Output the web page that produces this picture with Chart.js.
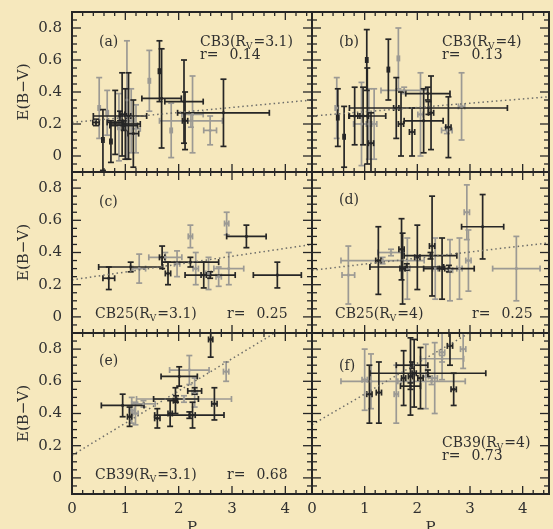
<!DOCTYPE html>
<html lang="en">
<head>
<meta charset="UTF-8">
<title>E(B-V) versus P</title>
<style>
  html, body { margin: 0; padding: 0; background: #f6e8bd; }
  #wrap { position: relative; width: 553px; height: 529px; overflow: hidden; }
  #wrap canvas { position: absolute; left: 0; top: 0; }
</style>
</head>
<body>
<div id="wrap">
  <canvas id="pa" width="553" height="529"></canvas>
  <canvas id="pb" width="553" height="529"></canvas>
  <canvas id="pc" width="553" height="529"></canvas>
  <canvas id="pd" width="553" height="529"></canvas>
  <canvas id="pe" width="553" height="529"></canvas>
  <canvas id="pf" width="553" height="529"></canvas>
</div>

<script src="https://cdn.jsdelivr.net/npm/chart.js"></script>
<script>
// tick labels
const xTicks = [0, 1, 2, 3, 4];
const yTicks = [0, 0.2, 0.4, 0.6, 0.8];

// (a) CB3, Rv=3.1   tone: 0 = black bar, 1 = grey bar
const P_a    = [0.45, 0.51, 0.58, 0.66, 0.73, 0.81, 0.88, 0.94, 1.00, 1.03, 1.06, 1.11, 1.15, 1.20, 0.90, 0.97, 1.45, 1.64, 1.68, 1.86, 2.10, 2.12, 2.26, 2.84, 2.23, 2.59];
const E_a    = [0.21, 0.30, 0.10, 0.27, 0.09, 0.21, 0.18, 0.26, 0.20, 0.35, 0.25, 0.22, 0.14, 0.17, 0.25, 0.19, 0.47, 0.53, 0.36, 0.16, 0.34, 0.22, 0.26, 0.27, 0.22, 0.16];
const dP_a   = [0.06, 0.02, 0.02, 0.02, 0.02, 0.15, 0.02, 0.05, 0.28, 0.02, 0.04, 0.05, 0.10, 0.08, 0.50, 0.26, 0.02, 0.02, 0.37, 0.02, 0.36, 0.05, 0.20, 0.86, 0.59, 0.12];
const dE_a   = [0.02, 0.19, 0.19, 0.14, 0.13, 0.20, 0.21, 0.26, 0.22, 0.37, 0.27, 0.20, 0.21, 0.15, 0.03, 0.03, 0.19, 0.19, 0.31, 0.17, 0.26, 0.18, 0.24, 0.21, 0.04, 0.09];
const tone_a = [0, 1, 0, 1, 0, 0, 1, 0, 0, 1, 0, 1, 0, 1, 0, 0, 1, 0, 0, 1, 0, 0, 1, 0, 1, 1];
const fit_a  = [0.21, 0.35];

// (b) CB3, Rv=4
const P_b    = [0.47, 0.49, 0.61, 0.81, 0.94, 0.97, 1.04, 1.05, 1.08, 1.12, 1.18, 1.45, 1.64, 1.60, 1.75, 1.69, 1.90, 2.20, 2.06, 2.12, 2.26, 2.21, 2.59, 2.84, 2.56];
const E_b    = [0.30, 0.24, 0.12, 0.25, 0.20, 0.25, 0.60, 0.25, 0.20, 0.08, 0.20, 0.54, 0.61, 0.30, 0.41, 0.20, 0.15, 0.39, 0.26, 0.22, 0.27, 0.30, 0.18, 0.31, 0.16];
const dP_b   = [0.03, 0.02, 0.02, 0.10, 0.15, 0.10, 0.02, 0.35, 0.05, 0.05, 0.05, 0.02, 0.02, 0.05, 0.44, 0.05, 0.05, 0.42, 0.05, 0.37, 0.05, 1.50, 0.05, 0.06, 0.10];
const dE_b   = [0.19, 0.18, 0.19, 0.18, 0.26, 0.18, 0.19, 0.30, 0.22, 0.19, 0.22, 0.19, 0.19, 0.19, 0.02, 0.20, 0.15, 0.04, 0.26, 0.20, 0.23, 0.04, 0.19, 0.21, 0.02];
const tone_b = [1, 0, 0, 0, 1, 0, 0, 0, 1, 0, 1, 0, 1, 0, 1, 0, 0, 0, 1, 0, 0, 0, 0, 1, 1];
const fit_b  = [0.25, 0.37];

// (c) CB25, Rv=3.1
const P_c    = [0.69, 1.10, 1.26, 1.75, 1.69, 1.80, 1.97, 2.22, 2.32, 2.22, 2.47, 2.59, 2.56, 2.75, 2.94, 2.90, 3.27, 3.85];
const E_c    = [0.24, 0.31, 0.30, 0.37, 0.37, 0.27, 0.33, 0.50, 0.30, 0.34, 0.26, 0.26, 0.27, 0.25, 0.30, 0.58, 0.50, 0.26];
const dP_c   = [0.11, 0.60, 0.12, 0.31, 0.05, 0.05, 0.05, 0.04, 0.05, 0.53, 0.05, 0.47, 0.05, 0.05, 0.28, 0.04, 0.37, 0.45];
const dE_c   = [0.07, 0.03, 0.09, 0.03, 0.07, 0.07, 0.08, 0.07, 0.10, 0.03, 0.08, 0.02, 0.10, 0.06, 0.10, 0.07, 0.07, 0.08];
const tone_c = [0, 0, 1, 1, 0, 0, 1, 1, 1, 0, 0, 0, 1, 1, 1, 1, 0, 0];
const fit_c  = [0.23, 0.45];

// (d) CB25, Rv=4
const P_d    = [0.69, 1.34, 1.26, 1.50, 1.70, 1.72, 1.81, 2.00, 2.25, 2.28, 2.34, 2.60, 2.47, 2.62, 2.80, 2.94, 2.97, 3.24, 3.88, 1.80];
const E_d    = [0.26, 0.35, 0.35, 0.40, 0.42, 0.30, 0.30, 0.37, 0.38, 0.44, 0.30, 0.30, 0.30, 0.29, 0.30, 0.65, 0.35, 0.56, 0.30, 0.31];
const dP_d   = [0.12, 0.79, 0.05, 0.25, 0.05, 0.05, 0.05, 0.05, 0.50, 0.05, 0.05, 0.48, 0.05, 0.05, 0.05, 0.05, 0.05, 0.40, 0.45, 0.70];
const dE_d   = [0.18, 0.02, 0.21, 0.02, 0.19, 0.22, 0.19, 0.20, 0.02, 0.31, 0.19, 0.02, 0.19, 0.19, 0.19, 0.17, 0.19, 0.20, 0.20, 0.02];
const tone_d = [1, 1, 0, 1, 0, 0, 1, 0, 0, 0, 1, 0, 0, 1, 1, 1, 1, 0, 1, 0];
const fit_d  = [0.29, 0.46];

// (e) CB39, Rv=3.1
const P_e    = [0.95, 1.08, 1.12, 1.19, 1.34, 2.10, 1.95, 1.60, 2.20, 1.84, 1.94, 2.01, 2.20, 2.30, 2.30, 2.67, 2.89, 2.60, 2.26];
const E_e    = [0.45, 0.38, 0.42, 0.40, 0.46, 0.49, 0.49, 0.37, 0.39, 0.40, 0.48, 0.63, 0.67, 0.53, 0.54, 0.46, 0.66, 0.86, 0.39];
const dP_e   = [0.40, 0.04, 0.05, 0.05, 0.22, 0.89, 0.42, 0.05, 0.65, 0.04, 0.04, 0.34, 0.37, 0.05, 0.13, 0.05, 0.05, 0.04, 0.05];
const dE_e   = [0.07, 0.06, 0.08, 0.07, 0.02, 0.02, 0.02, 0.06, 0.02, 0.08, 0.08, 0.06, 0.09, 0.09, 0.02, 0.10, 0.06, 0.11, 0.08];
const tone_e = [0, 0, 1, 1, 1, 1, 0, 0, 0, 0, 0, 0, 1, 1, 0, 0, 1, 0, 0];
const fit_e  = [0.14, 1.04];

// (f) CB39, Rv=4
const P_f    = [1.12, 1.00, 1.09, 1.27, 1.60, 2.20, 1.74, 2.27, 1.87, 1.94, 2.06, 1.87, 2.16, 2.33, 2.47, 2.62, 2.69, 2.87, 2.47, 1.90];
const E_f    = [0.60, 0.61, 0.52, 0.53, 0.52, 0.65, 0.62, 0.60, 0.63, 0.65, 0.62, 0.57, 0.63, 0.62, 0.74, 0.82, 0.55, 0.80, 0.78, 0.70];
const dP_f   = [0.57, 0.05, 0.05, 0.05, 0.04, 1.10, 0.04, 0.64, 0.04, 0.04, 0.05, 0.19, 0.05, 0.05, 0.41, 0.05, 0.05, 0.05, 0.05, 0.30];
const dE_f   = [0.17, 0.19, 0.18, 0.19, 0.18, 0.02, 0.17, 0.02, 0.24, 0.21, 0.19, 0.02, 0.20, 0.22, 0.02, 0.12, 0.10, 0.12, 0.17, 0.02];
const tone_f = [1, 1, 0, 0, 1, 0, 0, 1, 0, 0, 0, 0, 1, 1, 1, 0, 0, 1, 1, 0];
const fit_f  = [0.33, 1.19];

const W = 553, H = 529;
const FAMILY = 'DejaVu Serif';
const INK = '#303030';
const DARK = '#262626';
const GREY = '#9c9a94';

function seg(ctx, x0, y0, x1, y1) {
  ctx.beginPath(); ctx.moveTo(x0, y0); ctx.lineTo(x1, y1); ctx.stroke();
}

// error bars drawn behind the point markers, grey ones first
const errorBars = {
  id: 'errorBars',
  beforeDatasetsDraw(chart) {
    const { ctx, chartArea: a, scales: { x, y } } = chart;
    const pts = chart.data.datasets[1].data;
    ctx.save();
    ctx.beginPath(); ctx.rect(a.left, a.top, a.width, a.height); ctx.clip();
    ctx.lineWidth = 1.7;
    [1, 0].forEach(t => {
      ctx.strokeStyle = t ? GREY : DARK;
      pts.filter(p => p.tone === t).forEach(p => {
        const px = x.getPixelForValue(p.x), py = y.getPixelForValue(p.y);
        const xl = x.getPixelForValue(p.x - p.dx), xr = x.getPixelForValue(p.x + p.dx);
        const yb = y.getPixelForValue(p.y - p.dy), yt = y.getPixelForValue(p.y + p.dy);
        seg(ctx, xl, py, xr, py);
        seg(ctx, xl, py - 3, xl, py + 3);
        seg(ctx, xr, py - 3, xr, py + 3);
        seg(ctx, px, yb, px, yt);
        seg(ctx, px - 3, yb, px + 3, yb);
        seg(ctx, px - 3, yt, px + 3, yt);
      });
    });
    ctx.restore();
  }
};

// frame, inward ticks, panel annotations and axis titles
function decor(cfg) {
  return {
    id: 'decor',
    afterDraw(chart) {
      const { ctx, chartArea: a, scales: { x, y } } = chart;
      ctx.save();
      ctx.strokeStyle = DARK;
      ctx.lineWidth = 1.3;
      for (let k = 1; k < 23; k++) {
        const px = x.getPixelForValue(k * 0.2);
        const len = k % 5 === 0 ? 8 : 4;
        seg(ctx, px, a.top, px, a.top + len);
        seg(ctx, px, a.bottom, px, a.bottom - len);
      }
      for (let k = -1; k < 18; k++) {
        const py = y.getPixelForValue(k * 0.05);
        const len = k % 4 === 0 ? 9 : 5;
        seg(ctx, a.left, py, a.left + len, py);
        seg(ctx, a.right, py, a.right - len, py);
      }
      ctx.lineWidth = 2;
      ctx.strokeRect(a.left, a.top, a.width, a.height);

      ctx.fillStyle = INK;
      ctx.textBaseline = 'middle';
      ctx.textAlign = 'left';
      const font = '14px "' + FAMILY + '"';
      const sub = '9px "' + FAMILY + '"';
      ctx.font = font;
      ctx.fillText(cfg.tag, a.left + cfg.tagAt[0], a.top + cfg.tagAt[1]);

      let tx = a.left + cfg.nameAt[0], ty = a.top + cfg.nameAt[1];
      const head = cfg.name + '(R';
      ctx.fillText(head, tx, ty);
      tx += ctx.measureText(head).width;
      ctx.font = sub;
      ctx.fillText('V', tx, ty + 5);
      tx += ctx.measureText('V').width + 1;
      ctx.font = font;
      ctx.fillText('=' + cfg.rv + ')', tx, ty);

      tx = a.left + cfg.rAt[0]; ty = a.top + cfg.rAt[1];
      ctx.fillText('r=', tx, ty);
      ctx.fillText(cfg.r, tx + ctx.measureText('r=').width + 11, ty);

      ctx.font = '15px "' + FAMILY + '"';
      if (cfg.yTitle) {
        ctx.save();
        ctx.translate(24, (a.top + a.bottom) / 2);
        ctx.rotate(-Math.PI / 2);
        ctx.textAlign = 'center';
        ctx.fillText('E(B\u2212V)', 0, 0);
        ctx.restore();
      }
      if (cfg.xTitle) {
        ctx.textAlign = 'center';
        ctx.textBaseline = 'alphabetic';
        ctx.fillText('P', (a.left + a.right) / 2, 532);
      }
      ctx.restore();
    }
  };
}

// the scale boxes get exactly the room left outside the panel, so labels are not clipped
function fixBox(s, size, horizontal) {
  if (horizontal) s.height = size; else s.width = size;
  s.paddingLeft = s.paddingRight = s.paddingTop = s.paddingBottom = 0;
}

function panel(id, box, P, E, dP, dE, tone, fit, cfg) {
  const pts = P.map((v, i) => ({ x: v, y: E[i], dx: dP[i], dy: dE[i], tone: tone[i] }));
  const tickFont = { family: FAMILY, size: 15 };
  const yw = cfg.yTitle ? box[0] : 0;
  const xh = cfg.xTitle ? H - box[3] : 0;
  return new Chart(document.getElementById(id), {
    type: 'scatter',
    data: {
      datasets: [
        {
          type: 'line',
          data: [{ x: 0, y: fit[0] }, { x: 4.5, y: fit[1] }],
          borderColor: '#6d6d6a',
          borderWidth: 1.5,
          borderDash: [1.5, 3],
          pointRadius: 0,
          fill: false
        },
        {
          data: pts,
          pointStyle: 'rect',
          pointRadius: 1.8,
          borderWidth: 0,
          backgroundColor: c => (c.raw && c.raw.tone ? GREY : DARK)
        }
      ]
    },
    options: {
      responsive: false,
      devicePixelRatio: 1,
      animation: false,
      events: [],
      layout: { padding: { left: box[0] - yw, top: box[1], right: W - box[2], bottom: H - box[3] - xh } },
      plugins: { legend: { display: false }, tooltip: { enabled: false } },
      scales: {
        x: {
          type: 'linear', min: 0, max: 4.5,
          grid: { display: false, drawTicks: false },
          border: { display: false },
          ticks: { display: cfg.xTitle, padding: 6, color: INK, font: tickFont, maxRotation: 0, autoSkip: false,
                   callback: v => String(v) },
          afterBuildTicks: s => { s.ticks = xTicks.map(v => ({ value: v })); },
          afterFit: s => fixBox(s, xh, true)
        },
        y: {
          type: 'linear', min: -0.1, max: 0.9,
          grid: { display: false, drawTicks: false },
          border: { display: false },
          ticks: { display: cfg.yTitle, padding: 10, color: INK, font: tickFont, autoSkip: false,
                   callback: v => (v === 0 ? '0' : v.toFixed(1)) },
          afterBuildTicks: s => { s.ticks = yTicks.map(v => ({ value: v })); },
          afterFit: s => fixBox(s, yw, false)
        }
      }
    },
    plugins: [errorBars, decor(cfg)]
  });
}

panel('pa', [72, 12, 312, 172], P_a, E_a, dP_a, dE_a, tone_a, fit_a,
  { tag: '(a)', name: 'CB3', rv: '3.1', r: '0.14', tagAt: [27, 30], nameAt: [128, 30], rAt: [128, 43], yTitle: true, xTitle: false });
panel('pb', [312, 12, 552, 172], P_b, E_b, dP_b, dE_b, tone_b, fit_b,
  { tag: '(b)', name: 'CB3', rv: '4', r: '0.13', tagAt: [27, 30], nameAt: [130, 30], rAt: [130, 43], yTitle: false, xTitle: false });
panel('pc', [72, 172, 312, 333], P_c, E_c, dP_c, dE_c, tone_c, fit_c,
  { tag: '(c)', name: 'CB25', rv: '3.1', r: '0.25', tagAt: [27, 30], nameAt: [23, 142], rAt: [155, 142], yTitle: true, xTitle: false });
panel('pd', [312, 172, 552, 333], P_d, E_d, dP_d, dE_d, tone_d, fit_d,
  { tag: '(d)', name: 'CB25', rv: '4', r: '0.25', tagAt: [27, 28], nameAt: [23, 142], rAt: [160, 142], yTitle: false, xTitle: false });
panel('pe', [72, 333, 312, 494], P_e, E_e, dP_e, dE_e, tone_e, fit_e,
  { tag: '(e)', name: 'CB39', rv: '3.1', r: '0.68', tagAt: [27, 28], nameAt: [23, 142], rAt: [155, 142], yTitle: true, xTitle: true });
panel('pf', [312, 333, 552, 494], P_f, E_f, dP_f, dE_f, tone_f, fit_f,
  { tag: '(f)', name: 'CB39', rv: '4', r: '0.73', tagAt: [27, 33], nameAt: [130, 110], rAt: [130, 123], yTitle: false, xTitle: true });
</script>
</body>
</html>
